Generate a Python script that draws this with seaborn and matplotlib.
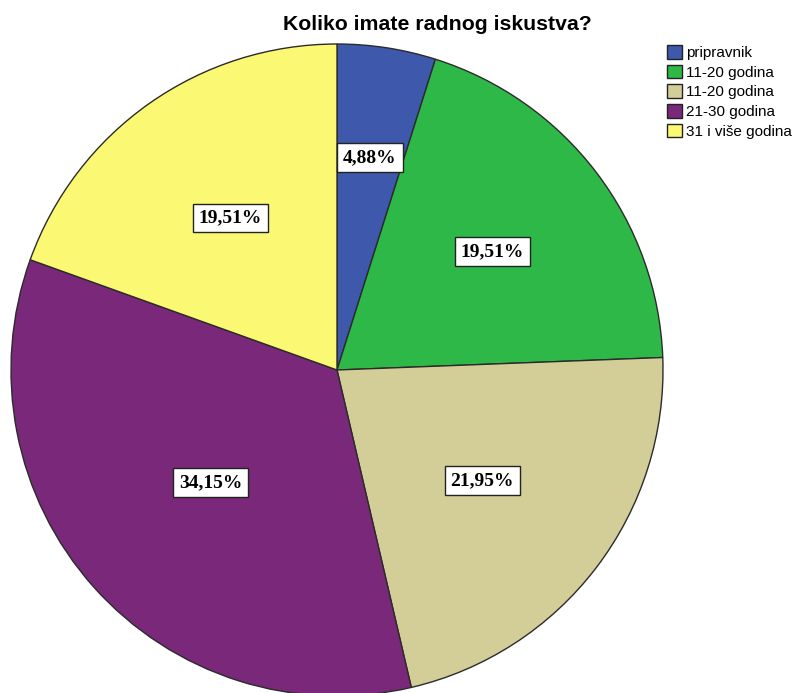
import matplotlib
matplotlib.use("Agg")
import matplotlib.pyplot as plt
import numpy as np
import seaborn as sns
from matplotlib.patches import Patch

sns.set_theme(style="white")
plt.rcParams["font.family"] = ["Liberation Sans", "DejaVu Sans"]
plt.rcParams["text.color"] = "black"

categories = ["pripravnik", "11-20 godina", "11-20 godina", "21-30 godina", "31 i više godina"]
percentages = [4.88, 19.51, 21.95, 34.15, 19.51]
label_texts = ["4,88%", "19,51%", "21,95%", "34,15%", "19,51%"]

SLICE_PALETTE = ["#3E58AC", "#2EB848", "#D3CE97", "#79287A", "#FBF873"]
LABEL_RADIUS = [0.66, 0.60, 0.56, 0.52, 0.57]

W, H = 795, 693
CX, CY, R = 337, 370, 326  # pie centre / radius in pixels

fig = plt.figure(figsize=(W / 100, H / 100), dpi=100)
ax = fig.add_axes([0, 0, 1, 1])

wedges, _ = ax.pie(
    percentages,
    colors=SLICE_PALETTE,
    startangle=90,
    counterclock=False,
    radius=1,
    wedgeprops=dict(edgecolor="#2b2b2b", linewidth=1.0),
)

for w, txt, rr in zip(wedges, label_texts, LABEL_RADIUS):
    mid = np.deg2rad((w.theta1 + w.theta2) / 2)
    ax.text(
        rr * np.cos(mid), rr * np.sin(mid), txt,
        ha="center", va="center", fontsize=14, fontweight="bold",
        family=["Liberation Serif", "DejaVu Serif"], color="black",
        bbox=dict(boxstyle="square,pad=0.3", facecolor="white",
                  edgecolor="#222222", linewidth=1.0),
    )

ax.set_xlim(-CX / R, (W - CX) / R)
ax.set_ylim(-(H - CY) / R, CY / R)
ax.set_aspect("equal")
ax.axis("off")

fig.text(437 / W, 1 - 24 / H, "Koliko imate radnog iskustva?",
         ha="center", va="center", fontsize=15.3, fontweight="bold", color="black")

handles = [Patch(facecolor=c, edgecolor="#222222", linewidth=1.0) for c in SLICE_PALETTE]
fig.legend(
    handles, categories,
    loc="upper left", bbox_to_anchor=(664 / W, 1 - 42 / H),
    frameon=False, fontsize=11, handlelength=1.0, handleheight=1.0,
    handletextpad=0.25, labelspacing=0.3, borderaxespad=0, borderpad=0.2,
    labelcolor="black",
)

fig.savefig("out.png", dpi=100, facecolor="white")
